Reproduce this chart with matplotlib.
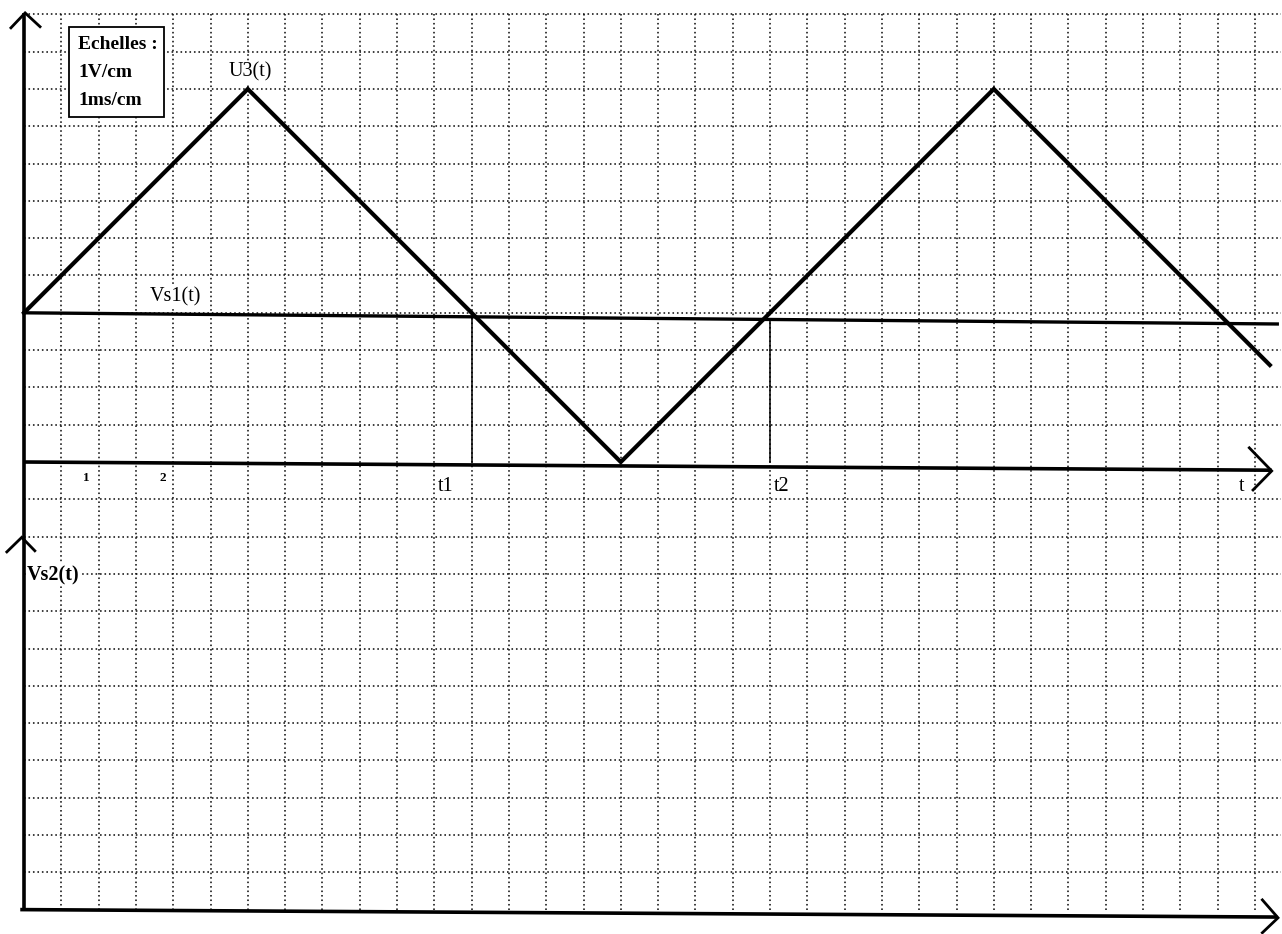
import numpy as np
import matplotlib
matplotlib.use("Agg")
import matplotlib.pyplot as plt

# ---- data (grid units: 1 cm = 1 ms horizontally, 1 V vertically) ----
u3_t = [0, 6, 16, 26, 33.4]
u3_v = [4, 10, 0, 10, 2.6]
vs1_t = [0, 33.6]
vs1_v = [4.0, 3.7]
t_marks = [12, 20]
t_mark_labels = ["t1", "t2"]
tick_pos = [1.66, 3.73]
tick_labels = ["1", "2"]
scale_lines = ["Echelles :", "1V/cm", "1ms/cm"]
lower_axis_y = -12

fig = plt.figure(figsize=(12.82, 9.34), dpi=100)
ax = fig.add_axes([0, 0, 1, 1])
ax.set_xlim(-24 / 37.3, (1282 - 24) / 37.3)
ax.set_ylim((462 - 934) / 37.3, 462 / 37.3)
ax.axis("off")

grid_kw = dict(color="#111111", lw=1.15, linestyle=(0, (1, 1.8)), zorder=1)
for gx in range(1, 34):
    ax.plot([gx, gx], [lower_axis_y, 12], **grid_kw)
for gy in range(lower_axis_y + 1, 13):
    if gy == 0:
        continue
    ax.plot([0, 33.7], [gy, gy], **grid_kw)

ax_kw = dict(color="black", lw=2.6, solid_capstyle="butt", zorder=3)
# vertical axis (upper + lower graphs)
ax.plot([0, 0], [lower_axis_y, 12.04], **ax_kw)
# upper t axis
ax.plot([0, 33.45], [0, -0.22], **ax_kw)
# lower t axis
ax.plot([-0.1, 33.6], [lower_axis_y, lower_axis_y - 0.2], **ax_kw)

arrow_kw = dict(color="black", lw=2.0, zorder=3, solid_joinstyle="miter")
ax.plot([-0.35, 0.03, 0.43], [11.64, 12.04, 11.67], **arrow_kw)
ax.plot([-0.46, -0.06, 0.29], [-2.41, -2.02, -2.38], **arrow_kw)
ax.plot([32.85, 33.45, 32.95], [0.38, -0.24, -0.75], **arrow_kw)
ax.plot([33.2, 33.62, 33.2], [-11.74, -12.22, -12.62], **arrow_kw)

# signals
ax.plot(u3_t, u3_v, color="black", lw=3.0, zorder=4, solid_joinstyle="miter")
ax.plot(vs1_t, vs1_v, color="black", lw=2.4, zorder=4)

txt_bg = dict(facecolor="white", edgecolor="none", pad=1.0)
for tm, lab, dx in zip(t_marks, t_mark_labels, [-0.7, 0.3]):
    top = np.interp(tm, vs1_t, vs1_v)
    ax.plot([tm, tm], [0, top], color="black", lw=1.1, zorder=3)
    ax.text(tm + dx, -0.67, lab, fontsize=14.5, family="Liberation Serif",
            ha="center", va="center", zorder=5, bbox=txt_bg)

ax.text(32.65, -0.67, "t", fontsize=14.5, family="Liberation Serif",
        ha="center", va="center", zorder=5, bbox=txt_bg)
for p, lab in zip(tick_pos, tick_labels):
    ax.text(p, -0.42, lab, fontsize=9.5, family="Liberation Serif", weight="bold",
            ha="center", va="center", zorder=5, bbox=txt_bg)

ax.text(6.06, 10.46, "U3(t)", fontsize=14.5, family="Liberation Serif",
        ha="center", va="center", zorder=5, bbox=txt_bg)
ax.text(4.05, 4.42, "Vs1(t)", fontsize=14.5, family="Liberation Serif",
        ha="center", va="center", zorder=5, bbox=txt_bg)
ax.text(0.08, -3.03, "Vs2(t)", fontsize=14.5, family="Liberation Serif",
        weight="bold", ha="left", va="center", zorder=5, bbox=txt_bg)

# scale box
ax.add_patch(plt.Rectangle((1.21, 9.25), 2.54, 2.41, facecolor="white",
                           edgecolor="black", lw=1.3, zorder=5))
for yy, s in zip([11.18, 10.45, 9.7], scale_lines):
    ax.text(1.45, yy, s, fontsize=14, family="Liberation Serif", weight="bold",
            ha="left", va="center", zorder=6)

fig.savefig("out.png", dpi=100)
